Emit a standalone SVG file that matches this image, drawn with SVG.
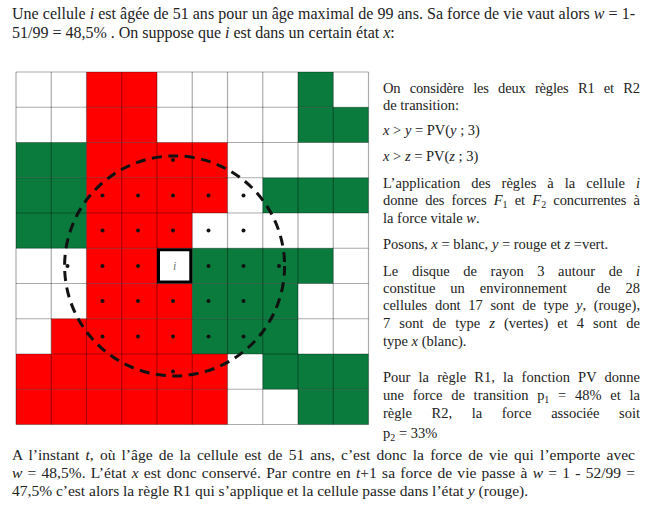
<svg xmlns="http://www.w3.org/2000/svg" width="646" height="506" viewBox="0 0 646 506">
<style>
text{font-family:"Liberation Serif","Times New Roman",serif;fill:#222}
.t{font-size:16px}
.b{font-size:15.5px}
.c{font-size:14.5px}
.i{font-style:italic}
.s{font-size:10px}
.r{fill:#ff0000}
.g{fill:#0a7b3d}
.gl{stroke:#000;stroke-opacity:0.33;stroke-width:1.2;fill:none}
.dot{fill:#111}
</style>
<rect width="646" height="506" fill="#fff"/>
<g id="cells">
<rect class="r" x="86.5" y="72" width="70.5" height="35.25"/>
<rect class="g" x="298" y="72" width="35.25" height="35.25"/>
<rect class="r" x="86.5" y="107.25" width="70.5" height="35.25"/>
<rect class="g" x="298" y="107.25" width="70.5" height="35.25"/>
<rect class="g" x="16" y="142.5" width="70.5" height="35.25"/>
<rect class="r" x="86.5" y="142.5" width="141" height="35.25"/>
<rect class="g" x="16" y="177.75" width="70.5" height="35.25"/>
<rect class="r" x="86.5" y="177.75" width="141" height="35.25"/>
<rect class="g" x="262.75" y="177.75" width="105.75" height="35.25"/>
<rect class="g" x="16" y="213" width="70.5" height="35.25"/>
<rect class="r" x="86.5" y="213" width="105.75" height="35.25"/>
<rect class="r" x="86.5" y="248.25" width="70.5" height="35.25"/>
<rect class="g" x="192.25" y="248.25" width="141" height="35.25"/>
<rect class="r" x="86.5" y="283.5" width="105.75" height="35.25"/>
<rect class="g" x="192.25" y="283.5" width="105.75" height="35.25"/>
<rect class="r" x="51.25" y="318.75" width="141" height="35.25"/>
<rect class="g" x="192.25" y="318.75" width="105.75" height="35.25"/>
<rect class="r" x="16" y="354" width="211.5" height="35.25"/>
<rect class="g" x="262.75" y="354" width="105.75" height="35.25"/>
<rect class="r" x="16" y="389.25" width="211.5" height="35.25"/>
<rect class="g" x="298" y="389.25" width="70.5" height="35.25"/>
</g>
<g id="grid" class="gl">
<path d="M16 72V424.5M51.25 72V424.5M86.5 72V424.5M121.75 72V424.5M157 72V424.5M192.25 72V424.5M227.5 72V424.5M262.75 72V424.5M298 72V424.5M333.25 72V424.5M368.5 72V424.5"/>
<path d="M16 72H368.5M16 107.25H368.5M16 142.5H368.5M16 177.75H368.5M16 213H368.5M16 248.25H368.5M16 283.5H368.5M16 318.75H368.5M16 354H368.5M16 389.25H368.5M16 424.5H368.5"/>
</g>
<g id="cell-i">
<rect x="158.5" y="249.75" width="32.25" height="32.25" fill="#fff" stroke="#000" stroke-width="3"/>
<text x="174.6" y="270" class="i" text-anchor="middle" style="fill:#777;font-size:12px">i</text>
</g>
<g id="dots" class="dot">
<circle cx="173" cy="160" r="2"/>
<circle cx="102.5" cy="195.4" r="2"/><circle cx="138" cy="195.4" r="2"/><circle cx="173" cy="195.4" r="2"/><circle cx="208.5" cy="195.4" r="2"/><circle cx="243.5" cy="195.4" r="2"/>
<circle cx="102.5" cy="230.6" r="2"/><circle cx="138" cy="230.6" r="2"/><circle cx="173" cy="230.6" r="2"/><circle cx="208.5" cy="230.6" r="2"/><circle cx="243.5" cy="230.6" r="2"/>
<circle cx="67.5" cy="265.9" r="2"/><circle cx="102.5" cy="265.9" r="2"/><circle cx="138" cy="265.9" r="2"/><circle cx="208.5" cy="265.9" r="2"/><circle cx="243.5" cy="265.9" r="2"/><circle cx="279" cy="265.9" r="2"/>
<circle cx="102.5" cy="301.1" r="2"/><circle cx="138" cy="301.1" r="2"/><circle cx="173" cy="301.1" r="2"/><circle cx="208.5" cy="301.1" r="2"/><circle cx="243.5" cy="301.1" r="2"/>
<circle cx="102.5" cy="336.4" r="2"/><circle cx="138" cy="336.4" r="2"/><circle cx="173" cy="336.4" r="2"/><circle cx="208.5" cy="336.4" r="2"/><circle cx="243.5" cy="336.4" r="2"/>
<circle cx="173" cy="371.6" r="2"/>
</g>
<g id="disk">
<circle cx="174.6" cy="265.9" r="110" fill="none" stroke="#111" stroke-width="3" stroke-dasharray="10 6.5"/>
</g>
<g id="text-top">
<text class="t" x="12" y="19" textLength="623" lengthAdjust="spacing">Une cellule <tspan class="i">i</tspan> est âgée de 51 ans pour un âge maximal de 99 ans. Sa force de vie vaut alors <tspan class="i">w</tspan> = 1-</text>
<text class="t" x="12" y="38">51/99 = 48,5% . On suppose que <tspan class="i">i</tspan> est dans un certain état <tspan class="i">x</tspan>:</text>
</g>
<g id="text-right">
<text class="c" x="383" y="93" word-spacing="5.85" textLength="257" lengthAdjust="spacing">On considère les deux règles R1 et R2</text>
<text class="c" x="383" y="110">de transition:</text>
<text class="c" x="383" y="135"><tspan class="i">x</tspan> &gt; <tspan class="i">y</tspan> = PV(<tspan class="i">y</tspan> ; 3)</text>
<text class="c" x="383" y="161"><tspan class="i">x</tspan> &gt; <tspan class="i">z</tspan> = PV(<tspan class="i">z</tspan> ; 3)</text>
<text class="c" x="383" y="188" word-spacing="7.27" textLength="257" lengthAdjust="spacing">L’application des règles à la cellule <tspan class="i">i</tspan></text>
<text class="c" x="383" y="205" word-spacing="3.8" textLength="257" lengthAdjust="spacing">donne des forces <tspan class="i">F</tspan><tspan class="s" dy="3">1</tspan><tspan dy="-3"> et </tspan><tspan class="i">F</tspan><tspan class="s" dy="3">2</tspan><tspan dy="-3"> concurrentes à</tspan></text>
<text class="c" x="383" y="223">la force vitale <tspan class="i">w</tspan>.</text>
<text class="c" x="383" y="249">Posons, <tspan class="i">x</tspan> = blanc, <tspan class="i">y</tspan> = rouge et <tspan class="i">z</tspan> =vert.</text>
<text class="c" x="383" y="276" word-spacing="9.96" textLength="257" lengthAdjust="spacing">Le disque de rayon 3 autour de <tspan class="i">i</tspan></text>
<text class="c" x="383" y="293" xml:space="preserve" word-spacing="11.4" textLength="257" lengthAdjust="spacing">constitue un environnement  de 28</text>
<text class="c" x="383" y="310" word-spacing="4" textLength="257" lengthAdjust="spacing">cellules dont 17 sont de type <tspan class="i">y</tspan>, (rouge),</text>
<text class="c" x="383" y="328" word-spacing="5.4" textLength="257" lengthAdjust="spacing">7 sont de type <tspan class="i">z</tspan> (vertes) et 4 sont de</text>
<text class="c" x="383" y="346">type <tspan class="i">x</tspan> (blanc).</text>
<text class="c" x="383" y="382" word-spacing="4.5" textLength="257" lengthAdjust="spacing">Pour la règle R1, la fonction PV donne</text>
<text class="c" x="383" y="400" word-spacing="5.1" textLength="257" lengthAdjust="spacing">une force de transition p<tspan class="s" dy="3">1</tspan><tspan dy="-3"> = 48% et la</tspan></text>
<text class="c" x="383" y="418" word-spacing="16" textLength="257" lengthAdjust="spacing">règle R2, la force associée soit</text>
<text class="c" x="383" y="438">p<tspan class="s" dy="3">2</tspan><tspan dy="-3"> = 33%</tspan></text>
</g>
<g id="text-bottom">
<text class="b" x="12" y="460" word-spacing="2.27" textLength="623" lengthAdjust="spacing">A l’instant <tspan class="i">t</tspan>, où l’âge de la cellule est de 51 ans, c’est donc la force de vie qui l’emporte avec</text>
<text class="b" x="12" y="478" word-spacing="1.35" textLength="623" lengthAdjust="spacing"><tspan class="i">w</tspan> = 48,5%. L’état <tspan class="i">x</tspan> est donc conservé. Par contre en <tspan class="i">t</tspan>+1 sa force de vie passe à <tspan class="i">w</tspan> = 1 - 52/99 =</text>
<text class="b" x="12" y="496">47,5% c’est alors la règle R1 qui s’applique et la cellule passe dans l’état <tspan class="i">y</tspan> (rouge).</text>
</g>
</svg>
